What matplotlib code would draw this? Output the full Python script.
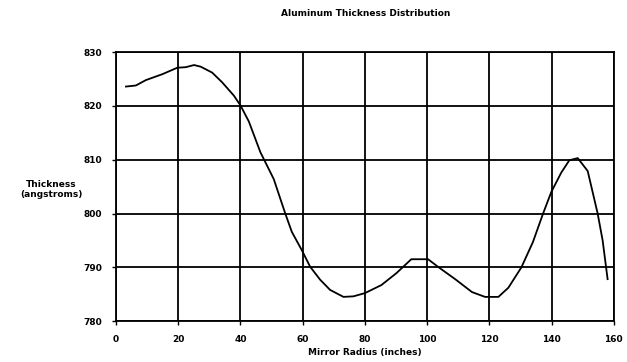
import matplotlib
matplotlib.use("Agg")
import matplotlib.pyplot as plt

radius = [3.2, 6.4, 9.6, 14.9, 19.7, 22.4, 25.1, 27.2, 30.9, 34.1, 37.9, 40.0, 42.7, 46.4, 50.7,
          54.4, 56.5, 59.7, 62.4, 65.6, 68.8, 73.1, 76.3, 80.0, 85.3, 90.1, 94.9, 100.3, 103.7,
          109.0, 114.4, 118.6, 122.9, 126.1, 130.3, 134.0, 137.2, 139.9, 143.1, 145.7, 148.4,
          151.6, 154.8, 156.4, 158.0]
thickness = [823.6, 823.8, 824.8, 825.9, 827.1, 827.2, 827.6, 827.3, 826.2, 824.4, 821.9, 820.1, 817.1, 811.4, 806.4,
             800.0, 796.6, 793.2, 790.1, 787.7, 785.8, 784.5, 784.6, 785.2, 786.7, 788.9, 791.5, 791.5, 790.0,
             787.8, 785.4, 784.5, 784.5, 786.2, 790.0, 794.7, 799.9, 804.0, 807.6, 809.9, 810.3,
             807.9, 800.0, 795.0, 787.8]
xticks = [0, 20, 40, 60, 80, 100, 120, 140, 160]
yticks = [780, 790, 800, 810, 820, 830]

fig = plt.figure(figsize=(6.27, 3.62), dpi=100)
ax = fig.add_axes([0.185, 0.113, 0.794, 0.743])
ax.plot(radius, thickness, color='black', lw=1.3)
ax.set_xlim(0, 160)
ax.set_ylim(780, 830)
ax.set_xticks(xticks)
ax.set_yticks(yticks)
ax.grid(True, color='black', lw=1.3)
for s in ax.spines.values():
    s.set_linewidth(1.3)
ax.tick_params(axis='both', labelsize=6.5, length=3, width=1, pad=7)
for lbl in ax.get_xticklabels() + ax.get_yticklabels():
    lbl.set_fontweight('bold')
ax.set_xlabel('Mirror Radius (inches)', fontsize=6.5, fontweight='bold', labelpad=3)
ax.set_ylabel('Thickness\n(angstroms)', fontsize=6.5, fontweight='bold', rotation=0,
              ha='center', va='center', labelpad=30)
ax.yaxis.set_label_coords(-0.13, 0.49)
fig.text(0.583, 0.962, 'Aluminum Thickness Distribution', fontsize=6.5, fontweight='bold',
         ha='center', va='center')
fig.savefig('out.png', dpi=100)
